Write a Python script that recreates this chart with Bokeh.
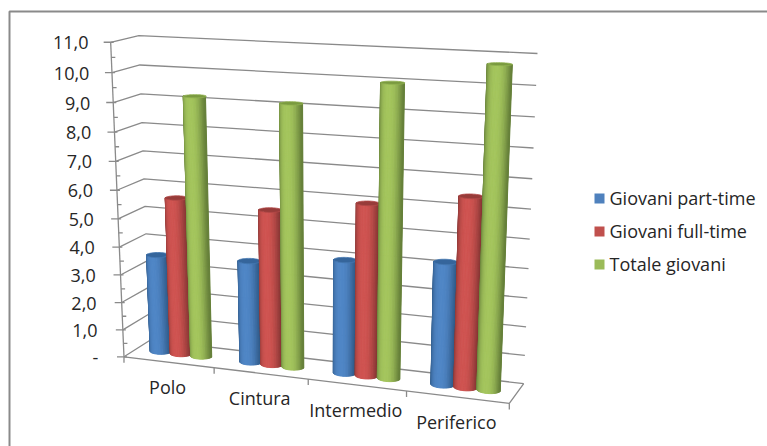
import numpy as np
from bokeh.embed import file_html
from bokeh.models import ColumnDataSource, Range1d
from bokeh.plotting import figure
from bokeh.resources import INLINE
from bokeh.core.properties import value

categories = ["Polo", "Cintura", "Intermedio", "Periferico"]
series_names = ["Giovani part-time", "Giovani full-time", "Totale giovani"]
part_time = [3.55, 3.65, 4.0, 4.25]
full_time = [5.65, 5.5, 6.0, 6.5]
totale = [9.2, 9.15, 10.0, 10.75]
series_values = [part_time, full_time, totale]
tick_labels = ["-", "1,0", "2,0", "3,0", "4,0", "5,0", "6,0", "7,0", "8,0", "9,0", "10,0", "11,0"]
Y_MAX = 11.0

base_colors = ["#4f81bd", "#c0504d", "#9bbb59"]
light_colors = ["#4f86c6", "#cf5451", "#a4c55d"]
dark_colors = ["#2f5a88", "#873634", "#66803a"]
top_colors = ["#35659b", "#973c3a", "#7a9a40"]
GREY = "#8a8a8a"
TEXT = "#262626"
FONT = "Open Sans"
FONT_SIZE = "18px"

# Anchors of the 3D box: (u, v, d) in unit coordinates and where they land on the page.
box_world = np.array([
    [0, 0, 0], [0, 1, 0], [0, 0, 1], [0, 1, 1], [1, 0, 1], [1, 1, 1], [1, 0, 0],
], dtype=float)
box_page = np.array([
    [123, 356], [110.5, 42], [150, 340], [138, 35], [523, 383], [537, 53], [509, 403],
], dtype=float)


def fit_camera(world, page):
    rows, rhs = [], []
    for (x, y, z), (px, py) in zip(world, page):
        rows.append([x, y, z, 1, 0, 0, 0, 0, -px * x, -px * y, -px * z])
        rhs.append(px)
        rows.append([0, 0, 0, 0, x, y, z, 1, -py * x, -py * y, -py * z])
        rhs.append(py)
    m = np.linalg.lstsq(np.array(rows), np.array(rhs), rcond=None)[0]
    return np.append(m, 1.0).reshape(3, 4)


CAM = fit_camera(box_world, box_page)


def project(u, v, d):
    """Category position u (0..4), value v, depth d (0 front, 1 back) to page coordinates."""
    u, v, d = np.broadcast_arrays(np.asarray(u, float), np.asarray(v, float), np.asarray(d, float))
    h = np.stack([u / 4.0, v / Y_MAX, d, np.ones_like(u)])
    q = CAM @ h.reshape(4, -1)
    return (q[0] / q[2]).reshape(u.shape), (q[1] / q[2]).reshape(u.shape)


def mix(c1, c2, t):
    a = [int(c1[i:i + 2], 16) for i in (1, 3, 5)]
    b = [int(c2[i:i + 2], 16) for i in (1, 3, 5)]
    return "#%02x%02x%02x" % tuple(round(x + (y - x) * t) for x, y in zip(a, b))


p = figure(width=767, height=446, output_backend="svg", toolbar_location=None,
           x_range=Range1d(0, 767), y_range=Range1d(446, 0), min_border=0)
p.axis.visible = False
p.grid.visible = False
p.outline_line_color = None
p.background_fill_color = "white"

# Chart frame: top and left edges
p.line([9, 9, 767], [446, 11, 11], line_color=GREY, line_width=2)

# Gridlines on the side and back walls
for v in range(0, 12):
    x, y = project([0, 0, 4], [v, v, v], [0, 1, 1])
    p.line(x.tolist(), y.tolist(), line_color=GREY, line_width=1.3)

# Floor outline with its category ticks
x, y = project([0, 4, 4], [0, 0, 0], [0, 0, 1])
p.line(x.tolist(), y.tolist(), line_color=GREY, line_width=1.3)
for i in range(5):
    x, y = project(i, 0, 0)
    p.segment(float(x), float(y), float(x), float(y) + 6, line_color=GREY, line_width=1.3)

# Value axis with major and minor ticks
x, y = project([0, 0], [0, Y_MAX], [0, 0])
p.line(x.tolist(), y.tolist(), line_color=GREY, line_width=1.3)
for v in np.arange(0, Y_MAX + 0.01, 0.5):
    x, y = project(0, v, 0)
    x, y = float(x), float(y)
    if v == int(v):
        p.segment(x - 7, y, x + 3, y, line_color=GREY, line_width=1.3)
    else:
        p.segment(x, y, x + 4, y, line_color=GREY, line_width=1.3)

# Cylinders, one strip per facet of the visible half
BAR_CENTERS = [0.272, 0.5, 0.728]
RADIUS_U = 0.113
RADIUS_D = 0.17
DEPTH = 0.5
N = 24
thetas = np.linspace(np.pi, 0, N + 1)
for c in range(len(categories)):
    for s, vals in enumerate(series_values):
        uc = c + BAR_CENTERS[s]
        h = vals[c]
        xs, ys, fills = [], [], []
        for k in range(N):
            t0, t1 = thetas[k], thetas[k + 1]
            uu = uc + RADIUS_U * np.cos([t0, t1, t1, t0])
            dd = DEPTH - RADIUS_D * np.sin([t0, t1, t1, t0])
            vv = np.array([0, 0, h, h])
            px, py = project(uu, vv, dd)
            xs.append(px.tolist())
            ys.append(py.tolist())
            # shade by how far the facet sits from the cylinder's axis on the page
            edge = abs(np.cos((t0 + t1) / 2))
            fills.append(mix(light_colors[s], dark_colors[s], edge ** 2.5))
        src = ColumnDataSource(dict(x=xs, y=ys, c=fills))
        p.patches("x", "y", source=src, fill_color="c", line_color="c", line_width=1.0)
        ring = np.linspace(0, 2 * np.pi, 48)
        px, py = project(uc + RADIUS_U * np.cos(ring), np.full_like(ring, h),
                         DEPTH - RADIUS_D * np.sin(ring))
        p.patch(px.tolist(), py.tolist(), fill_color=top_colors[s],
                line_color=mix(top_colors[s], light_colors[s], 0.5), line_width=0.8)

# Value labels step along the slanted axis
for v, lab in enumerate(tick_labels):
    x, y = project(0, v, 0)
    p.text([88 + (Y_MAX - v) * 0.9], [float(y) + 0.5], text=[lab], text_align="right", text_baseline="middle",
           text_color=TEXT, text_font=value(FONT), text_font_size=FONT_SIZE)

# Category labels, stepping down with the floor edge
for i, lab in enumerate(categories):
    x, y = project(i + 0.5, 0, 0)
    p.text([float(x) - 1], [float(y) + 25], text=[lab], text_align="center", text_baseline="middle",
           text_color=TEXT, text_font=value(FONT), text_font_size=FONT_SIZE)

# Legend
legend_y = [198, 231, 264]
for s, name in enumerate(series_names):
    p.quad(left=[594], right=[604], top=[legend_y[s] - 5], bottom=[legend_y[s] + 5],
           fill_color=base_colors[s], line_color=None)
    p.text([609], [legend_y[s] - 0.5], text=[name], text_align="left", text_baseline="middle",
           text_color=TEXT, text_font=value(FONT), text_font_size=FONT_SIZE)

open("out.html", "w").write(file_html(p, INLINE))
